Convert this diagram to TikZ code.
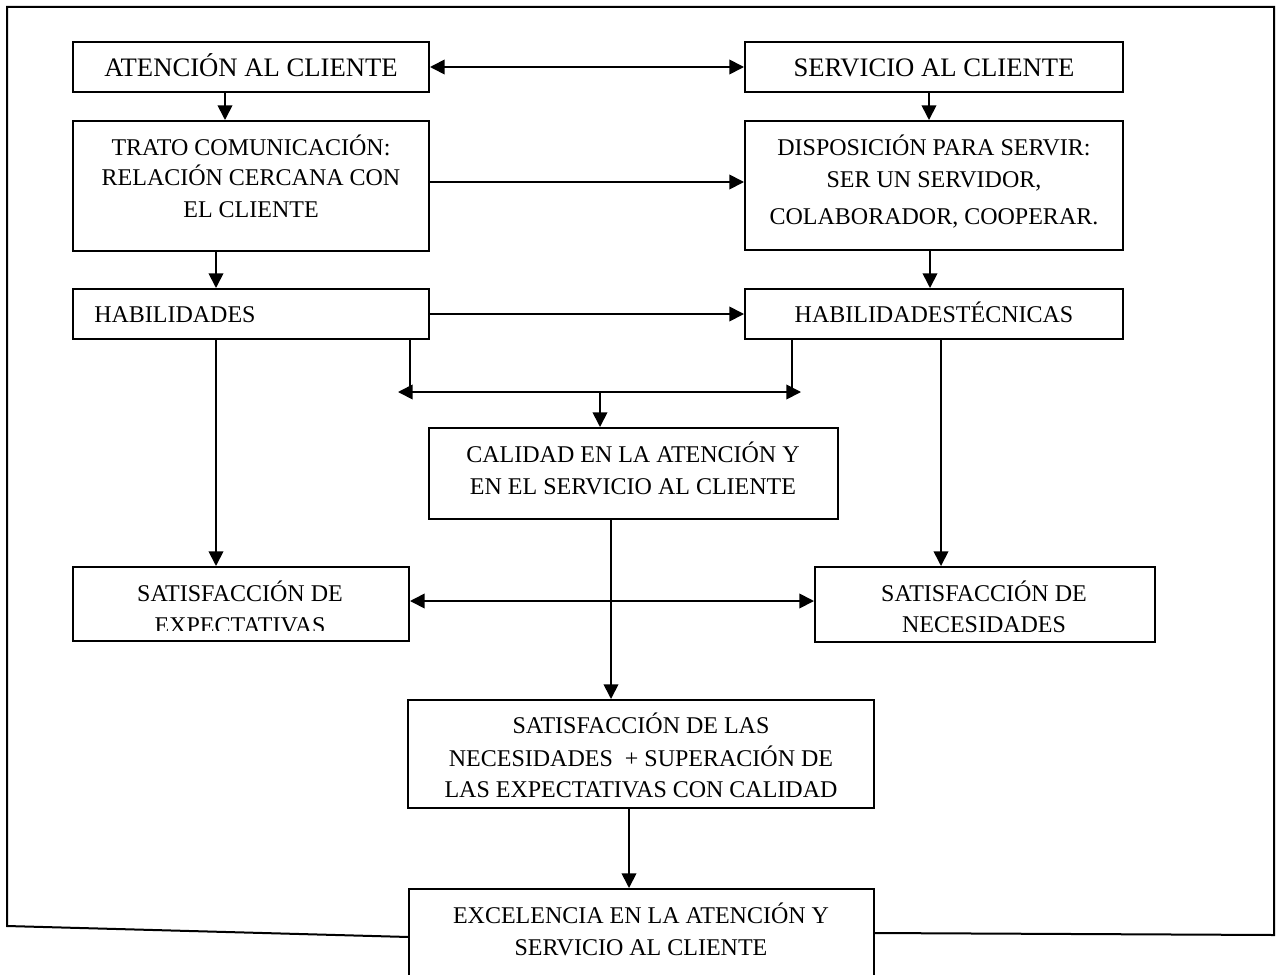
\documentclass[tikz,border=0pt]{standalone}
\usepackage{fontspec}
\setmainfont{Liberation Serif}
\usetikzlibrary{arrows.meta,fit,calc}
\begin{document}
\begin{tikzpicture}[x=0.75pt,y=-0.75pt,
  box/.style={draw, line width=1.5pt, inner sep=0pt},
  txt/.style={inner sep=0pt, anchor=base, font=\fontsize{18}{21}\selectfont},
  txtbig/.style={txt, font=\fontsize{20}{24}\selectfont},
  conn/.style={line width=1.3pt},
  frameline/.style={line width=1.5pt},
  arr/.style={conn, -{Triangle[length=11pt,width=11pt]}},
  dbl/.style={conn, {Triangle[length=11pt,width=11pt]}-{Triangle[length=11pt,width=11pt]}}]
\useasboundingbox (0,0) rectangle (1280,974);
\clip (0,0) rectangle (1280,974);

% outer frame
\draw[frameline] (409,937) -- (7,926) -- (7,7) -- (1274,7) -- (1274,935) -- (874,933);

% boxes
\node[box, fit={(73,42) (429,92)}] (aten) {};
\node[box, fit={(745,42) (1123,92)}] (serv) {};
\node[box, fit={(73,121) (429,251)}] (trato) {};
\node[box, fit={(745,121) (1123,250)}] (disp) {};
\node[box, fit={(73,289) (429,339)}] (hab) {};
\node[box, fit={(745,289) (1123,339)}] (habt) {};
\node[box, fit={(429,428) (838,519)}] (cal) {};
\node[box, fit={(73,567) (409,641)}] (sexp) {};
\node[box, fit={(815,567) (1155,642)}] (snec) {};
\node[box, fit={(408,700) (874,808)}] (slas) {};
\node[box, fit={(409,889) (874,985)}] (exc) {};

% texts
\node[txtbig] (atenT) at (251,77) {ATENCIÓN AL CLIENTE};
\node[txtbig] (servT) at (934,77) {SERVICIO AL CLIENTE};
\node[txt] (tratoT1) at (251,155) {TRATO COMUNICACIÓN:};
\node[txt] (tratoT2) at (251,185) {RELACIÓN CERCANA CON};
\node[txt] (tratoT3) at (251,217) {EL CLIENTE};
\node[txt] (dispT1) at (934,155) {DISPOSICIÓN PARA SERVIR:};
\node[txt] (dispT2) at (934,187) {SER UN SERVIDOR,};
\node[txt] (dispT3) at (934,224) {COLABORADOR, COOPERAR.};
\node[txt, anchor=base west] (habT) at (94,322) {HABILIDADES};
\node[txt] (habtT) at (934,322) {HABILIDADESTÉCNICAS};
\node[txt] (calT1) at (633,462) {CALIDAD EN LA ATENCIÓN Y};
\node[txt] (calT2) at (633,494) {EN EL SERVICIO AL CLIENTE};
\node[txt] (sexpT1) at (240,601) {SATISFACCIÓN DE};
\begin{scope}
  \clip (73,567) rectangle (409,630);
  \node[txt] (sexpT2) at (240,633) {EXPECTATIVAS};
\end{scope}
\node[txt] (snecT1) at (984,601) {SATISFACCIÓN DE};
\node[txt] (snecT2) at (984,632) {NECESIDADES};
\node[txt] (slasT1) at (641,733) {SATISFACCIÓN DE LAS};
\node[txt] (slasT2) at (641,766) {NECESIDADES\ \ + SUPERACIÓN DE};
\node[txt] (slasT3) at (641,797) {LAS EXPECTATIVAS CON CALIDAD};
\node[txt] (excT1) at (641,923) {EXCELENCIA EN LA ATENCIÓN Y};
\node[txt] (excT2) at (641,955) {SERVICIO AL CLIENTE};

% connectors
\draw[dbl] (aten.east) -- (serv.west);
\draw[arr] ([xshift=-19.5pt]aten.south) -- ([xshift=-19.5pt]aten.south |- trato.north);
\draw[arr] ([xshift=-3.75pt]serv.south) -- ([xshift=-3.75pt]serv.south |- disp.north);
\draw[arr] ([yshift=3pt]trato.east) -- ([yshift=3pt]trato.east -| disp.west);
\draw[arr] ([xshift=-26.25pt]trato.south) -- ([xshift=-26.25pt]trato.south |- hab.north);
\draw[arr] ([xshift=-3pt]disp.south) -- ([xshift=-3pt]disp.south |- habt.north);
\draw[arr] (hab.east) -- (habt.west);

\coordinate (jl) at (398,392);
\coordinate (jr) at (801,392);
\coordinate (jm) at (600,392);
\draw[conn] ([xshift=-15pt]hab.south east) -- ([xshift=-15pt]hab.south east |- jl);
\draw[conn] ([xshift=36pt]habt.south west) -- ([xshift=36pt]habt.south west |- jr);
\draw[dbl] (jl) -- (jr);
\draw[arr] (jm) -- (jm |- cal.north);

\draw[arr] ([xshift=-26.25pt]hab.south) -- ([xshift=-26.25pt]hab.south |- sexp.north);
\draw[arr] ([xshift=5.25pt]habt.south) -- ([xshift=5.25pt]habt.south |- snec.north);
\draw[dbl] ([yshift=2.25pt]sexp.east) -- ([yshift=2.25pt]sexp.east -| snec.west);
\draw[arr] ([xshift=-16.875pt]cal.south) -- ([xshift=-16.875pt]cal.south |- slas.north);
\draw[arr] ([xshift=-9pt]slas.south) -- ([xshift=-9pt]slas.south |- exc.north);
\end{tikzpicture}
\end{document}
